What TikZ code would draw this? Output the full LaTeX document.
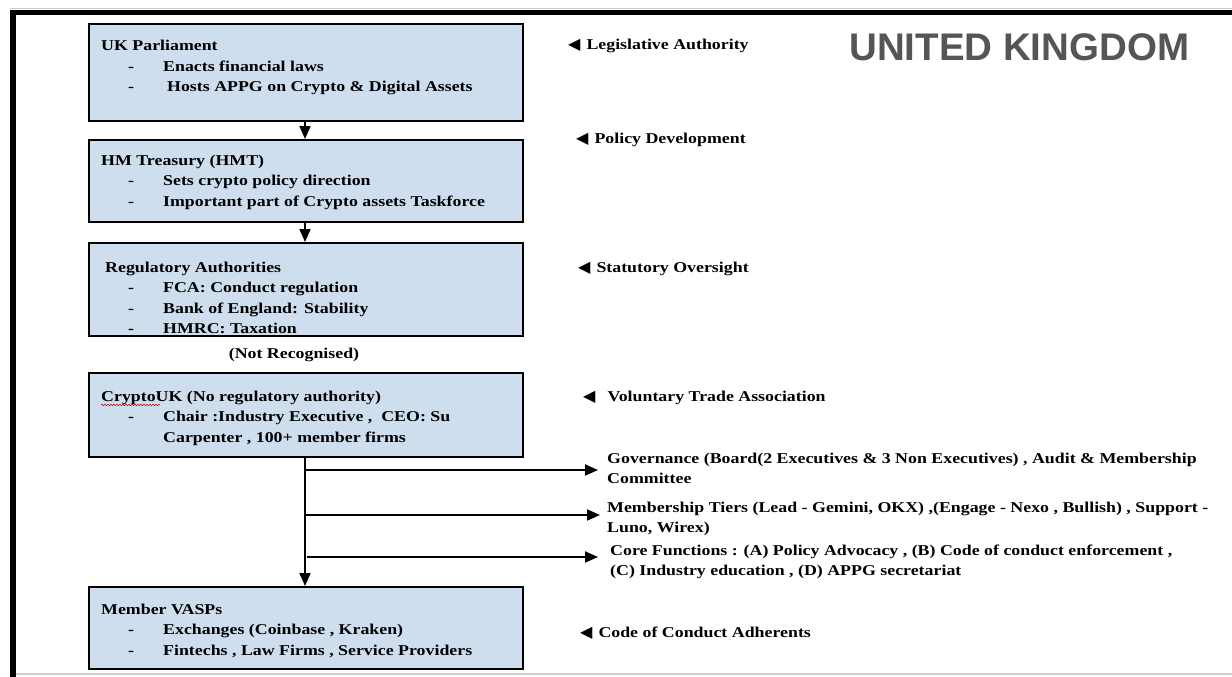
\documentclass[tikz,border=0pt]{standalone}
\usepackage{fontspec}
\setmainfont{Liberation Serif}[FakeStretch=1.19]
\newfontfamily\titlefont{Liberation Sans}
\newfontfamily\symfont{DejaVu Sans}
\usetikzlibrary{arrows.meta,decorations.pathmorphing}
\definecolor{boxfill}{RGB}{207,222,238}
\definecolor{titlegray}{RGB}{85,85,85}
\definecolor{rulegray}{RGB}{204,204,204}
% one bullet line inside a box: dash column, then the item text
\newcommand{\itemline}[1]{\hspace*{27pt}\makebox[35pt][l]{-}#1}
\newcommand{\contline}[1]{\hspace*{62pt}#1}
\newcommand{\pointer}{{\symfont\fontsize{16}{16}\selectfont ◀}}
\begin{document}
\begin{tikzpicture}[x=1pt,y=-1pt,
  orgbox/.style={draw=black, line width=1.8pt, fill=boxfill, minimum width=434pt,
                 anchor=north west, inner sep=0pt},
  boxtext/.style={anchor=north west, inner sep=0pt, align=left,
                  font=\bfseries\fontsize{15}{20.5}\selectfont},
  sidelabel/.style={anchor=base west, inner sep=0pt, align=left,
                    font=\bfseries\fontsize{15}{20.5}\selectfont},
  flow/.style={line width=1.8pt, -{Triangle[length=13pt,width=11pt]}},
]
\useasboundingbox (0,0) rectangle (1232,677);
\fill[white] (0,0) rectangle (1232,677);

% page frame
\draw[rulegray, line width=1pt] (10,8.5) -- (1232,8.5);
\draw[rulegray, line width=2pt] (16,674) -- (1232,674);
\draw[black, line width=5.5pt, line join=miter] (13,677) -- (13,12.75) -- (1232,12.75);

% heading
\node[anchor=base west, inner sep=0pt, text=titlegray,
      font=\titlefont\bfseries\fontsize{38.5}{38.5}\selectfont] (title) at (849,61) {UNITED KINGDOM};

% boxes
\node[orgbox, minimum height=97pt] (b1) at (88,23) {};
\node[orgbox, minimum height=82pt] (b2) at (88,139) {};
\node[orgbox, minimum height=93pt] (b3) at (88,242) {};
\node[orgbox, minimum height=84pt] (b4) at (88,372) {};
\node[orgbox, minimum height=82pt] (b5) at (88,586) {};

% box contents
\node[boxtext] (t1) at (101,36.35) {\strut UK Parliament\\
  \itemline{Enacts financial laws}\\
  \itemline{\hspace*{4pt}Hosts APPG on Crypto \& Digital Assets}};
\node[boxtext] (t2) at (101,150.65) {\strut HM Treasury (HMT)\\
  \itemline{Sets crypto policy direction}\\
  \itemline{Important part of Crypto assets Taskforce}};
\node[boxtext] (t3) at (101,257.65) {\strut\hspace*{4pt}Regulatory Authorities\\
  \itemline{FCA: Conduct regulation}\\
  \itemline{Bank of England: Stability}\\
  \itemline{HMRC: Taxation}};
\node[boxtext] (t4) at (101,386.65) {\strut CryptoUK (No regulatory authority)\\
  \itemline{Chair :Industry Executive ,\ \ CEO: Su}\\
  \contline{Carpenter , 100+ member firms}};
\node[boxtext] (t5) at (101,599.65) {\strut Member VASPs\\
  \itemline{Exchanges (Coinbase , Kraken)}\\
  \itemline{Fintechs , Law Firms , Service Providers}};

% spell-check squiggle under the association name
\coordinate (sqa) at (101,405);
\coordinate (sqb) at (160,405);
\draw[red!80!black, line width=0.5pt, decorate,
      decoration={snake, segment length=3pt, amplitude=0.8pt}] (sqa) -- (sqb);

\node[anchor=base, inner sep=0pt, font=\bfseries\fontsize{15}{20.5}\selectfont] (nr) at (294,358) {(Not Recognised)};

% vertical flow
\coordinate (spine) at (305,0);
\draw[flow] (b1.south -| spine) -- (b2.north -| spine);
\draw[flow] (b2.south -| spine) -- (b3.north -| spine);
\draw[flow] (b4.south -| spine) -- (b5.north -| spine);

% branches off the CryptoUK line
\coordinate (g0) at (305,470);  \coordinate (g1) at (598,470);
\coordinate (m0) at (305,515);  \coordinate (m1) at (600,515);
\coordinate (c0) at (307,557);  \coordinate (c1) at (598,557);
\draw[flow] (g0) -- (g1);
\draw[flow] (m0) -- (m1);
\draw[flow] (c0) -- (c1);

% side labels
\node[sidelabel] (l1) at (568,50) {\pointer\hspace{6pt}Legislative Authority};
\node[sidelabel] (l2) at (576,143) {\pointer\hspace{6pt}Policy Development};
\node[sidelabel] (l3) at (578,272) {\pointer\hspace{6pt}Statutory Oversight};
\node[sidelabel] (l4) at (583,401) {\pointer\hspace{12pt}Voluntary Trade Association};
\node[sidelabel] (l5) at (580,637) {\pointer\hspace{6pt}Code of Conduct Adherents};

% branch descriptions (anchored on the baseline of their last line)
\node[sidelabel] (d1) at (607,483.5) {Governance (Board(2 Executives \& 3 Non Executives) , Audit \& Membership\\Committee};
\node[sidelabel] (d2) at (607,532.5) {Membership Tiers (Lead - Gemini, OKX) ,(Engage - Nexo , Bullish) , Support -\\Luno, Wirex)};
\node[sidelabel] (d3) at (610,575.5) {Core Functions : (A) Policy Advocacy , (B) Code of conduct enforcement ,\\(C) Industry education , (D) APPG secretariat};
\end{tikzpicture}
\end{document}
